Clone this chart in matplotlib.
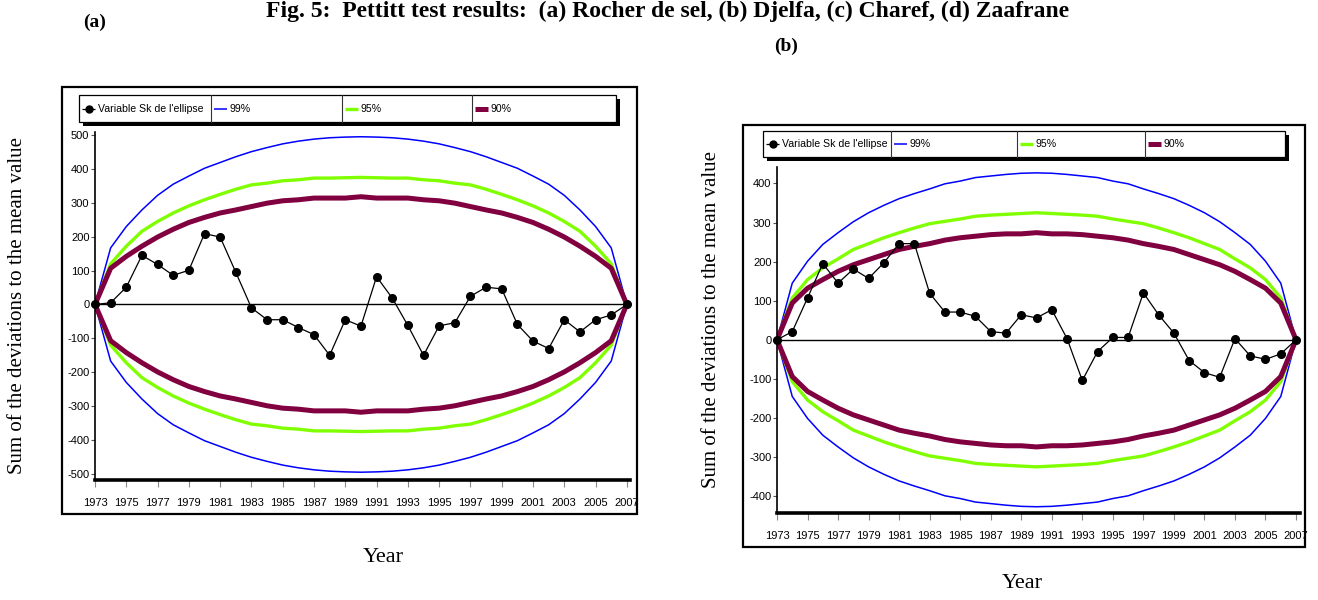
import matplotlib
matplotlib.use("Agg")
import matplotlib.pyplot as plt
from matplotlib.lines import Line2D
from matplotlib.patches import Rectangle

plt.rcParams["axes.unicode_minus"] = False

W, H = 1318, 600

years = list(range(1973, 2008))
year_ticks = list(range(1973, 2008, 2))

# (a) Rocher de sel : cumulative deviations and ellipse limits
sk_a = [0, 5, 51, 145, 118, 86, 101, 209, 199, 95, -10, -45, -45, -68, -89, -150, -45, -64,
        82, 19, -62, -150, -63, -54, 24, 51, 46, -59, -108, -130, -45, -81, -45, -31, 0]
up99_a = [0, 167, 230, 279, 322, 355, 379, 402, 419, 436, 451, 463, 474, 482, 488, 492, 494, 495,
          494, 492, 488, 482, 474, 463, 451, 436, 419, 402, 379, 355, 322, 279, 230, 167, 0]
up95_a = [0, 120, 172, 216, 245, 270, 291, 309, 325, 340, 353, 358, 365, 368, 373, 373, 374, 375,
          374, 373, 373, 368, 365, 358, 353, 340, 325, 309, 291, 270, 245, 216, 172, 120, 0]
up90_a = [0, 107, 142, 172, 199, 222, 242, 257, 270, 279, 289, 299, 306, 309, 314, 314, 314, 318,
          314, 314, 314, 309, 306, 299, 289, 279, 270, 257, 242, 222, 199, 172, 142, 107, 0]
yticks_a = list(range(-500, 501, 100))

# (b) Djelfa
sk_b = [0, 21, 107, 195, 145, 181, 157, 197, 246, 246, 119, 71, 71, 60, 21, 17, 64, 56,
        77, 3, -104, -30, 6, 6, 120, 64, 17, -53, -84, -96, 3, -41, -50, -36, 0]
up99_b = [0, 145, 201, 244, 274, 302, 325, 344, 361, 374, 386, 399, 406, 415, 419, 423, 426, 427,
          426, 423, 419, 415, 406, 399, 386, 374, 361, 344, 325, 302, 274, 244, 201, 145, 0]
up95_b = [0, 107, 154, 184, 207, 231, 246, 261, 274, 286, 297, 303, 309, 316, 319, 321, 323, 325,
          323, 321, 319, 316, 309, 303, 297, 286, 274, 261, 246, 231, 207, 184, 154, 107, 0]
up90_b = [0, 94, 132, 154, 175, 192, 205, 218, 231, 239, 246, 255, 261, 265, 269, 271, 271, 274,
          271, 271, 269, 265, 261, 255, 246, 239, 231, 218, 205, 192, 175, 154, 132, 94, 0]
yticks_b = list(range(-400, 401, 100))

legend_labels = ["Variable Sk de l'ellipse", "99%", "95%", "90%"]

C99 = "#0000FF"
C95 = "#80FF00"
C90 = "#800040"

SANS = ["Liberation Sans", "DejaVu Sans"]
SERIF = ["Liberation Serif", "DejaVu Serif"]


def fx(x):
    return x / W


def fy(y):
    return 1 - y / H


def frame(fig, x0, y0, x1, y1):
    fig.patches.append(Rectangle((fx(x0), fy(y1)), fx(x1) - fx(x0), fy(y0) - fy(y1),
                                 transform=fig.transFigure, fill=False, lw=1.6, ec="black"))


def legend_box(fig, x0, y0, x1, y1, cuts):
    # black drop shadow, then the white box with its cell dividers
    fig.patches.append(Rectangle((fx(x0 + 4), fy(y1 + 4)), fx(x1) - fx(x0), fy(y0) - fy(y1),
                                 transform=fig.transFigure, fc="black", ec="none"))
    fig.patches.append(Rectangle((fx(x0), fy(y1)), fx(x1) - fx(x0), fy(y0) - fy(y1),
                                 transform=fig.transFigure, fc="white", ec="black", lw=0.9))
    for c in cuts:
        fig.add_artist(Line2D([fx(c), fx(c)], [fy(y0), fy(y1)], transform=fig.transFigure,
                              color="#333333", lw=0.8))
    ym = fy((y0 + y1) / 2)
    starts = [x0] + cuts
    styles = [("black", 0.9), (C99, 1.1), (C95, 2.4), (C90, 3.6)]
    for s, lab, (col, lw) in zip(starts, legend_labels, styles):
        fig.add_artist(Line2D([fx(s + 3), fx(s + 16)], [ym, ym], transform=fig.transFigure,
                              color=col, lw=lw, solid_capstyle="butt"))
        if lab.startswith("Variable"):
            fig.add_artist(Line2D([fx(s + 10)], [ym], transform=fig.transFigure,
                                  color="black", marker="o", ms=5))
        fig.text(fx(s + 19), ym, lab, fontsize=7.6, family=SANS, va="center", ha="left")


def panel(fig, box, ylim, yticks, sk, up99, up95, up90):
    x0, y0, x1, y1, xmax = box
    ax = fig.add_axes([fx(x0), fy(y1), fx(x1) - fx(x0), fy(y0) - fy(y1)])
    ax.plot(years, up99, color=C99, lw=1.1)
    ax.plot(years, [-v for v in up99], color=C99, lw=1.1)
    ax.plot(years, up95, color=C95, lw=2.4)
    ax.plot(years, [-v for v in up95], color=C95, lw=2.4)
    ax.plot(years, up90, color=C90, lw=3.6)
    ax.plot(years, [-v for v in up90], color=C90, lw=3.6)
    ax.axhline(0, color="black", lw=1.0)
    ax.plot(years, sk, color="black", lw=0.9, marker="o", ms=5.5, clip_on=False, zorder=5)

    ax.set_xlim(1973, xmax)
    ax.set_ylim(*ylim)
    ax.set_xticks(year_ticks)
    ax.set_xticklabels([str(y) for y in year_ticks], fontsize=8, family=SANS)
    ax.set_yticks(yticks)
    ax.set_yticklabels([str(v) for v in yticks], fontsize=8, family=SANS)
    ax.tick_params(axis="x", length=5, width=0.8, color="#888888", pad=8)
    ax.tick_params(axis="y", length=3, width=0.8, color="#555555", pad=1)
    for side in ("top", "right"):
        ax.spines[side].set_visible(False)
    ax.spines["left"].set_linewidth(1.2)
    ax.spines["bottom"].set_linewidth(2.6)
    ax.patch.set_alpha(0)
    return ax


fig = plt.figure(figsize=(W / 100, H / 100), dpi=100)

fig.text(fx(668), fy(17), "Fig. 5:  Pettitt test results:  (a) Rocher de sel, (b) Djelfa, (c) Charef, (d) Zaafrane",
         fontsize=17, family=SERIF, weight="bold", ha="center", va="baseline")
fig.text(fx(95), fy(22), "(a)", fontsize=14, family=SERIF, weight="bold", ha="center", va="center")
fig.text(fx(786), fy(46), "(b)", fontsize=14, family=SERIF, weight="bold", ha="center", va="center")

# panel (a)
frame(fig, 62, 87, 637, 514)
legend_box(fig, 79, 95, 616, 122, [211, 342, 472])
panel(fig, (95, 132, 630, 480, 2007.2), (-518, 509), yticks_a, sk_a, up99_a, up95_a, up90_a)
fig.text(fx(18), fy(305), "Sum of the deviations to the mean value", rotation=90,
         fontsize=15, family=SERIF, ha="center", va="center")
fig.text(fx(383), fy(557), "Year", fontsize=16, family=SERIF, ha="center", va="center")

# panel (b)
frame(fig, 743, 125, 1305, 547)
legend_box(fig, 763, 131, 1285, 157, [891, 1017, 1145])
panel(fig, (777, 167, 1300, 513, 2007.26), (-443, 442), yticks_b, sk_b, up99_b, up95_b, up90_b)
fig.text(fx(712), fy(320), "Sum of the deviations to the mean value", rotation=90,
         fontsize=15, family=SERIF, ha="center", va="center")
fig.text(fx(1022), fy(583), "Year", fontsize=16, family=SERIF, ha="center", va="center")

fig.savefig("out.png", dpi=100)
